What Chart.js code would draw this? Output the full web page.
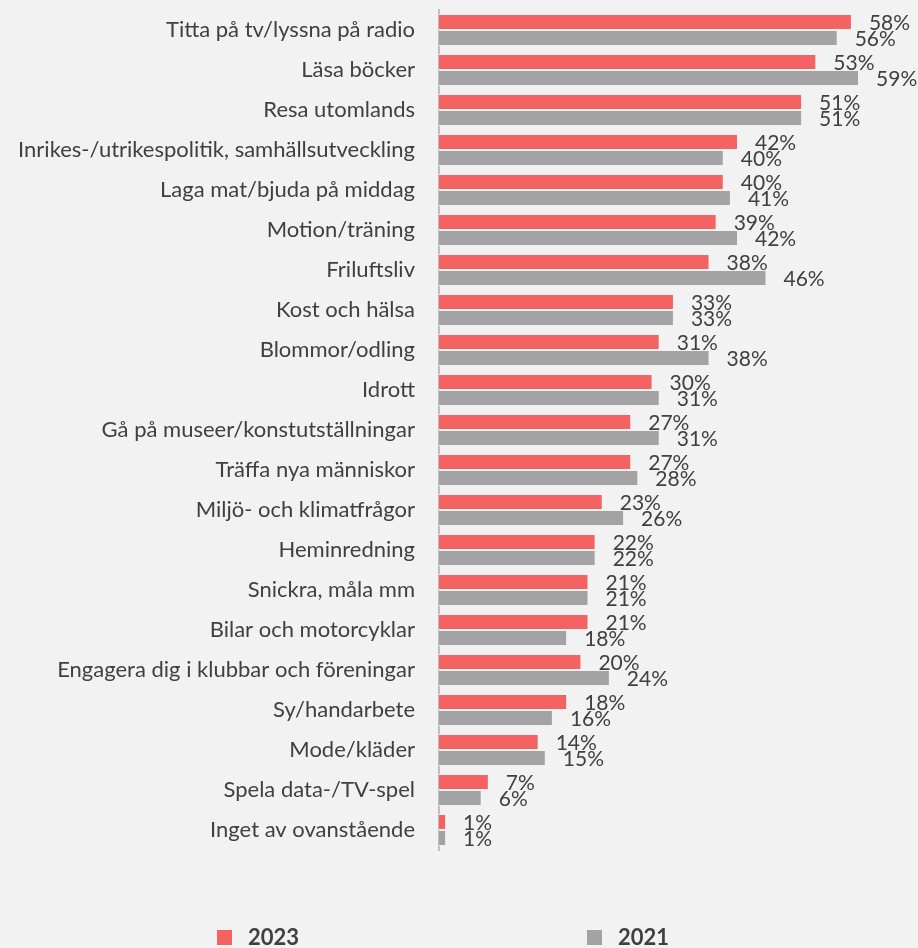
<!DOCTYPE html>
<html>
<head>
<meta charset="utf-8">
<script src="https://cdn.jsdelivr.net/npm/chart.js@4/dist/chart.umd.min.js"></script>
<style>
    html, body {
        margin: 0;
        padding: 0;
        background: #F2F2F2;
    }
    #wrap {
        width: 918px;
        height: 948px;
    }
</style>
</head>
<body>

<div id="wrap">
    <canvas id="interestChart"></canvas>
</div>

<script>

// DATA

const categories = [
    "Titta på tv/lyssna på radio",
    "Läsa böcker",
    "Resa utomlands",
    "Inrikes-/utrikespolitik, samhällsutveckling",
    "Laga mat/bjuda på middag",
    "Motion/träning",
    "Friluftsliv",
    "Kost och hälsa",
    "Blommor/odling",
    "Idrott",
    "Gå på museer/konstutställningar",
    "Träffa nya människor",
    "Miljö- och klimatfrågor",
    "Heminredning",
    "Snickra, måla mm",
    "Bilar och motorcyklar",
    "Engagera dig i klubbar och föreningar",
    "Sy/handarbete",
    "Mode/kläder",
    "Spela data-/TV-spel",
    "Inget av ovanstående"
];

const values2023 = [58, 53, 51, 42, 40, 39, 38, 33, 31, 30, 27, 27, 23, 22, 21, 21, 20, 18, 14, 7, 1];

const values2021 = [56, 59, 51, 40, 41, 42, 46, 33, 38, 31, 31, 28, 26, 22, 21, 18, 24, 16, 15, 6, 1];

const seriesLabels = ["2023", "2021"];

const FONT = "Lato, 'Open Sans', sans-serif";
const TEXT = "#404040";


// VALUE LABELS AT BAR ENDS

const valueLabels = {
    id: "valueLabels",
    afterDatasetsDraw(chart) {
        const ctx = chart.ctx;
        ctx.save();
        ctx.font = "21px " + FONT;
        ctx.fillStyle = TEXT;
        ctx.textAlign = "left";
        ctx.textBaseline = "middle";
        chart.data.datasets.forEach((ds, i) => {
            chart.getDatasetMeta(i).data.forEach((bar, j) => {
                ctx.fillText(ds.data[j] + "%", bar.x + 17, bar.y + 1);
            });
        });
        ctx.restore();
    }
};


// LEGEND UNDER THE CHART

const bottomLegend = {
    id: "bottomLegend",
    afterDraw(chart) {
        const ctx = chart.ctx;
        const spots = [217, 587];
        ctx.save();
        ctx.font = "bold 22px " + FONT;
        ctx.textAlign = "left";
        ctx.textBaseline = "alphabetic";
        chart.data.datasets.forEach((ds, i) => {
            const x = spots[i];
            ctx.fillStyle = ds.backgroundColor;
            ctx.fillRect(x, 930, 15, 15);
            ctx.fillStyle = TEXT;
            ctx.fillText(ds.label, x + 31, 945);
        });
        ctx.restore();
    }
};


// BAR CHART

const ctx = document.getElementById("interestChart");

new Chart(ctx, {

    type: "bar",

    data: {
        labels: categories,

        datasets: [{
            label: seriesLabels[0],
            data: values2023,
            backgroundColor: "#F46264",
            borderColor: "#F2F2F2",
            borderWidth: 1
        }, {
            label: seriesLabels[1],
            data: values2021,
            backgroundColor: "#A3A3A3",
            borderColor: "#F2F2F2",
            borderWidth: 1
        }]
    },

    options: {

        indexAxis: "y",
        responsive: true,
        maintainAspectRatio: false,
        animation: false,

        layout: {
            padding: { top: 10, right: 2, bottom: 98, left: 0 }
        },

        datasets: {
            bar: {
                categoryPercentage: 0.8,
                barPercentage: 1
            }
        },

        plugins: {
            legend: { display: false },
            tooltip: { enabled: false }
        },

        scales: {

            x: {
                display: false,
                min: 0,
                max: 67
            },

            y: {
                // fixed axis position, no extra room for the end labels
                afterFit(scale) {
                    scale.width = 439;
                    scale.paddingTop = 0;
                    scale.paddingBottom = 0;
                },
                grid: {
                    display: false
                },
                border: {
                    display: true,
                    color: "#BFBFBF",
                    width: 2
                },
                ticks: {
                    color: TEXT,
                    padding: 16,
                    font: { family: FONT, size: 22 }
                }
            }

        }

    },

    plugins: [valueLabels, bottomLegend]

});

</script>

</body>
</html>
